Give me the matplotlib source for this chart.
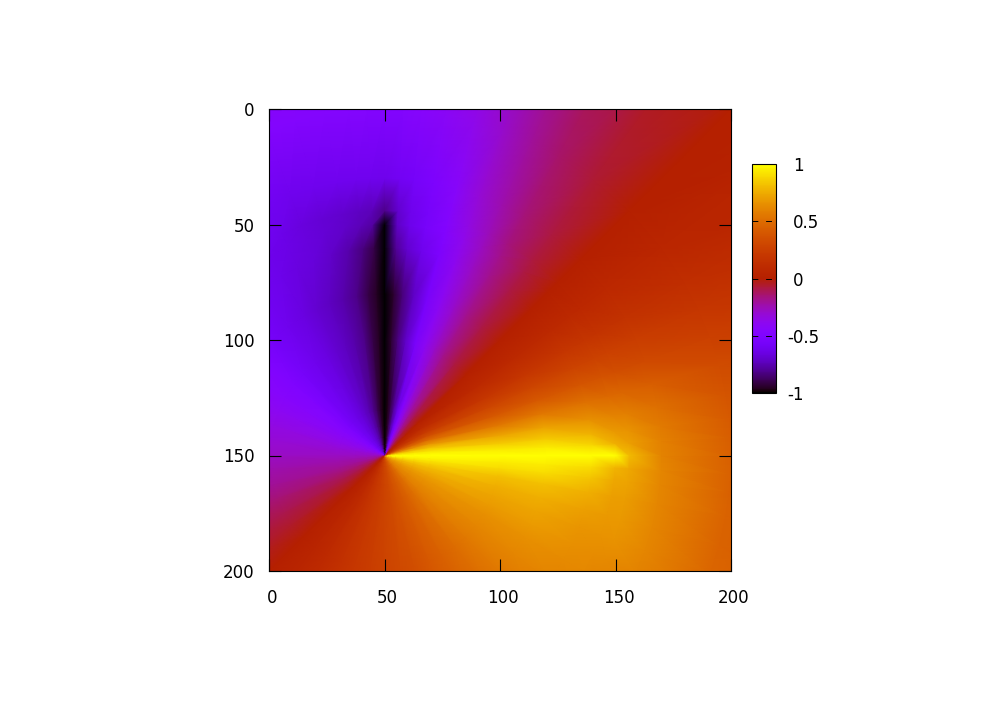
import numpy as np
import matplotlib
matplotlib.use("Agg")
import matplotlib.pyplot as plt
from matplotlib.colors import ListedColormap
from matplotlib.transforms import ScaledTranslation
from matplotlib.tri import Triangulation

plt.rcParams['font.family'] = ['DejaVu Sans']

# values read off the picture along rays from the point (50, 150)
# angle in degrees, counter clockwise on screen, one row of values per radius
angles = [-135, -127, -120, -112, -105, -97, -90, -82, -75, -67, -60, -52, -45, -37, -30, -25, -20, -15, -10, -6, -3,
          0, 3, 6, 10, 15, 20, 25, 30, 37, 45,
          53, 60, 65, 70, 75, 80, 84, 87, 90, 93, 96, 100, 105, 110, 115, 120, 127, 135,
          142, 150, 157, 165, 172, 180, 187, 195, 202, 210, 217, 225]
# close to the point the colour only depends on the angle
near_radii = [0.3, 0.5, 0.8, 1.3, 2, 3.2, 5, 8, 13, 20]
far_radii = [50, 70, 90, 100, 106, 120, 150, 225]
r_near = [0, .05, .10, .15, .20, .24, .28, .32, .36, .41, .46, .52, .58, .63, .67, .71, .75, .80, .87, .93, .97,
          1, .97, .92, .82, .65, .48, .33, .22, .10, 0,
          -.10, -.22, -.33, -.48, -.65, -.82, -.92, -.97, -1, -.97, -.93, -.87, -.80, -.75, -.71, -.67, -.63, -.58,
          -.52, -.46, -.41, -.36, -.32, -.28, -.24, -.20, -.15, -.10, -.05, 0]
r_mid = [0, .05, .10, .15, .20, .24, .28, .32, .35, .40, .45, .50, .56, .61, .65, .69, .72, .76, .82, .90, .95,
         1, .94, .85, .72, .55, .40, .29, .19, .09, 0,
         -.09, -.19, -.29, -.40, -.55, -.72, -.85, -.94, -1, -.95, -.90, -.82, -.76, -.72, -.69, -.65, -.61, -.56,
         -.50, -.45, -.40, -.35, -.32, -.28, -.24, -.20, -.15, -.10, -.05, 0]
r_090 = [0, .05, .10, .15, .20, .24, .28, .32, .35, .40, .45, .50, .55, .60, .63, .65, .67, .71, .76, .83, .90,
         1, .88, .77, .65, .52, .39, .28, .19, .09, 0,
         -.09, -.19, -.28, -.39, -.52, -.62, -.70, -.80, -1, -.90, -.83, -.76, -.71, -.67, -.65, -.63, -.60, -.55,
         -.50, -.45, -.40, -.35, -.32, -.28, -.24, -.20, -.15, -.10, -.05, 0]
r_100 = [0, .05, .10, .15, .20, .24, .28, .32, .35, .40, .45, .50, .54, .59, .62, .64, .66, .68, .71, .74, .78,
         1, .76, .68, .60, .48, .37, .27, .18, .09, 0,
         -.09, -.18, -.27, -.37, -.48, -.56, -.63, -.72, -1, -.78, -.74, -.71, -.68, -.66, -.64, -.62, -.59, -.54,
         -.50, -.45, -.40, -.35, -.32, -.28, -.24, -.20, -.15, -.10, -.05, 0]
r_106 = [0, .05, .10, .15, .20, .24, .28, .32, .35, .40, .45, .49, .53, .57, .60, .63, .66, .68, .70, .72, .74,
         .80, .71, .66, .58, .47, .35, .26, .17, .08, 0,
         -.08, -.17, -.26, -.35, -.47, -.56, -.62, -.70, -.82, -.74, -.72, -.70, -.68, -.66, -.63, -.60, -.57, -.53,
         -.49, -.45, -.40, -.35, -.32, -.28, -.24, -.20, -.15, -.10, -.05, 0]
r_120 = [0, .05, .10, .15, .20, .24, .28, .32, .35, .40, .45, .48, .52, .55, .58, .60, .61, .61, .61, .61, .61,
         .60, .59, .57, .52, .43, .32, .24, .16, .08, 0,
         -.08, -.16, -.24, -.32, -.43, -.52, -.57, -.59, -.62, -.61, -.61, -.61, -.61, -.61, -.60, -.58, -.55, -.52,
         -.48, -.45, -.40, -.35, -.32, -.28, -.24, -.20, -.15, -.10, -.05, 0]
r_150 = [0, .05, .10, .15, .20, .24, .28, .32, .35, .40, .44, .46, .48, .49, .50, .49, .47, .46, .46, .45, .45,
         .44, .43, .42, .39, .33, .26, .19, .13, .06, 0,
         -.07, -.14, -.21, -.29, -.37, -.42, -.45, -.47, -.48, -.47, -.47, -.47, -.47, -.47, -.49, -.50, -.49, -.48,
         -.46, -.44, -.40, -.35, -.32, -.28, -.24, -.20, -.15, -.10, -.05, 0]
r_225 = [0, .04, .08, .12, .15, .18, .20, .23, .26, .28, .30, .33, .35, .37, .38, .37, .35, .33, .30, .29, .28,
         .27, .26, .25, .23, .20, .16, .12, .07, .03, 0,
         -.03, -.07, -.13, -.18, -.22, -.25, -.27, -.28, -.30, -.30, -.31, -.32, -.33, -.35, -.37, -.38, -.37, -.35,
         -.33, -.30, -.28, -.26, -.23, -.20, -.18, -.15, -.12, -.08, -.04, 0]
radii = near_radii + far_radii
values = [r_near]*len(near_radii) + [r_mid, r_mid, r_090, r_100, r_106, r_120, r_150, r_225]
ticks = [0, 50, 100, 150, 200]
cb_ticks = [-1, -0.5, 0, 0.5, 1]
cb_labels = ['-1', '-0.5', '0', '0.5', '1']

# gnuplot default pm3d palette (rgbformulae 7,5,15)
t = np.linspace(0, 1, 256)
cols = np.column_stack([np.sqrt(t), t**3, np.clip(np.sin(2*np.pi*t), 0, 1)])
cmap = ListedColormap(cols)

# fan of triangles around the point
phi, rad = np.meshgrid(np.radians(angles), radii)
px = 50 + rad*np.cos(phi)
py = 150 - rad*np.sin(phi)
nr, na = phi.shape
tris = []
for i in range(nr-1):
    for j in range(na-1):
        a = i*na+j
        tris.append([a, a+1, a+na])
        tris.append([a+1, a+na+1, a+na])
tri = Triangulation(px.ravel(), py.ravel(), tris)

W, H = 1001, 701
fig = plt.figure(figsize=(W/100, H/100), dpi=100)
ax = fig.add_axes([269/W, 1-571/H, 462/W, 462/H])
mesh = ax.tripcolor(tri, np.array(values).ravel(), cmap=cmap, vmin=-1, vmax=1, shading='gouraud')
ax.set_xlim(0, 200)
ax.set_ylim(200, 0)
ax.set_xticks(ticks)
ax.set_yticks(ticks)
ax.tick_params(direction='in', length=8.5, width=0.8, top=True, right=True, labelsize=12)
ax.tick_params(axis='x', pad=13)
ax.tick_params(axis='y', pad=10.5)
for lab in ax.get_xticklabels():
    lab.set_transform(lab.get_transform() + ScaledTranslation(3/100, 0, fig.dpi_scale_trans))

cax = fig.add_axes([752/W, 1-393/H, 24/W, 229/H])
cb = fig.colorbar(mesh, cax=cax)
cb.set_ticks(cb_ticks)
cb.set_ticklabels(cb_labels)
cb.ax.tick_params(length=0, labelsize=12, pad=8)
cb.outline.set_linewidth(0.8)
cax.hlines(cb_ticks[1:4], 0, 1, transform=cax.get_yaxis_transform(), colors='black', linewidth=0.7, linestyles=(0, (6, 8)))
# the digits line up in the original, the minus sign hangs to the left
for lab, v in zip(cax.get_yticklabels(), cb_ticks):
    if v >= 0:
        lab.set_transform(lab.get_transform() + ScaledTranslation(6/100, 0, fig.dpi_scale_trans))

fig.savefig("out.png", dpi=100)
